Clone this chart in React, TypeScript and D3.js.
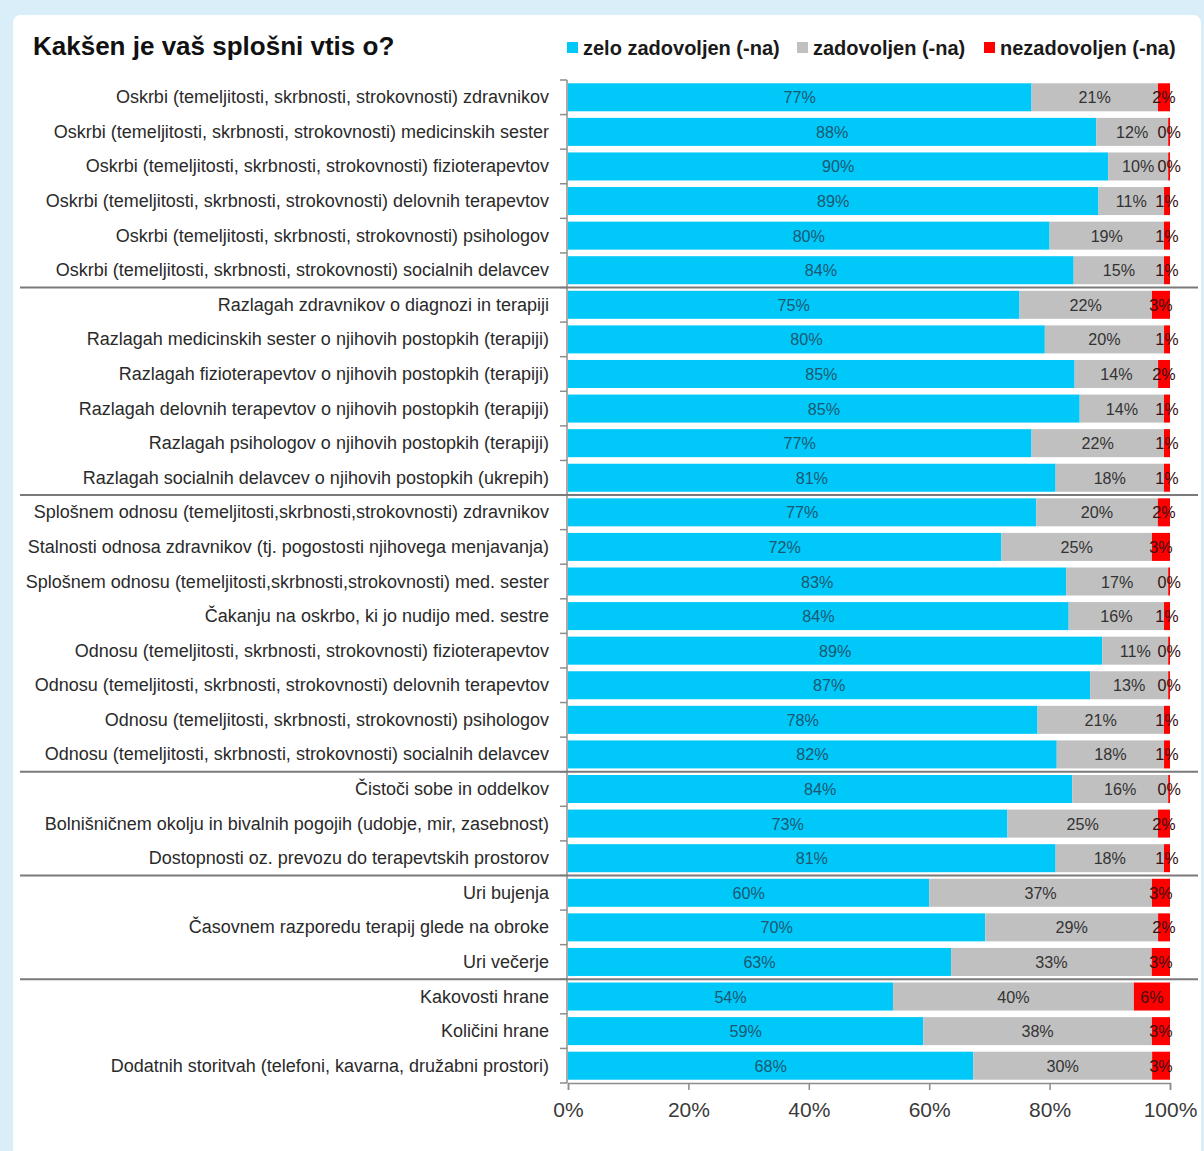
import { useEffect, useRef } from "react";
import * as d3 from "d3";

const categories = [
  "Oskrbi (temeljitosti, skrbnosti, strokovnosti) zdravnikov",
  "Oskrbi (temeljitosti, skrbnosti, strokovnosti) medicinskih sester",
  "Oskrbi (temeljitosti, skrbnosti, strokovnosti) fizioterapevtov",
  "Oskrbi (temeljitosti, skrbnosti, strokovnosti) delovnih terapevtov",
  "Oskrbi (temeljitosti, skrbnosti, strokovnosti) psihologov",
  "Oskrbi (temeljitosti, skrbnosti, strokovnosti) socialnih delavcev",
  "Razlagah zdravnikov o diagnozi in terapiji",
  "Razlagah medicinskih sester o njihovih postopkih (terapiji)",
  "Razlagah fizioterapevtov o njihovih postopkih (terapiji)",
  "Razlagah delovnih terapevtov o njihovih postopkih (terapiji)",
  "Razlagah psihologov o njihovih postopkih (terapiji)",
  "Razlagah socialnih delavcev o njihovih postopkih (ukrepih)",
  "Splošnem odnosu (temeljitosti,skrbnosti,strokovnosti) zdravnikov",
  "Stalnosti odnosa zdravnikov (tj. pogostosti njihovega menjavanja)",
  "Splošnem odnosu (temeljitosti,skrbnosti,strokovnosti) med. sester",
  "Čakanju na oskrbo, ki jo nudijo med. sestre",
  "Odnosu (temeljitosti, skrbnosti, strokovnosti) fizioterapevtov",
  "Odnosu (temeljitosti, skrbnosti, strokovnosti) delovnih terapevtov",
  "Odnosu (temeljitosti, skrbnosti, strokovnosti) psihologov",
  "Odnosu (temeljitosti, skrbnosti, strokovnosti) socialnih delavcev",
  "Čistoči sobe in oddelkov",
  "Bolnišničnem okolju in bivalnih pogojih (udobje, mir, zasebnost)",
  "Dostopnosti oz. prevozu do terapevtskih prostorov",
  "Uri bujenja",
  "Časovnem razporedu terapij glede na obroke",
  "Uri večerje",
  "Kakovosti hrane",
  "Količini hrane",
  "Dodatnih storitvah (telefoni, kavarna, družabni prostori)",
];

const verySatisfied = [77, 88, 90, 89, 80, 84, 75, 80, 85, 85, 77, 81, 77, 72, 83, 84, 89, 87, 78, 82, 84, 73, 81, 60, 70, 63, 54, 59, 68];
const satisfied = [21, 12, 10, 11, 19, 15, 22, 20, 14, 14, 22, 18, 20, 25, 17, 16, 11, 13, 21, 18, 16, 25, 18, 37, 29, 33, 40, 38, 30];
const dissatisfied = [2, 0.3, 0.3, 1, 1, 1, 3, 1, 2, 1, 1, 1, 2, 3, 0.3, 1, 0.3, 0.3, 1, 1, 0.3, 2, 1, 3, 2, 3, 6, 3, 3];

// rows after which a group separator line is drawn
const groupEnds = [6, 12, 20, 23, 26];

const seriesNames = ["zelo zadovoljen (-na)", "zadovoljen (-na)", "nezadovoljen (-na)"];
const seriesColors = ["#00C8F8", "#C0C0C0", "#FF0000"];
const labelColors = ["#1b5873", "#333333", "#3a1010"];
const xTicks = [0, 0.2, 0.4, 0.6, 0.8, 1];

const W = 1204;
const H = 1151;
const FONT = "'Liberation Sans', Arial, sans-serif";

const App = () => {
  const ref = useRef<HTMLDivElement>(null);

  useEffect(() => {
    document.body.style.margin = "0";
    const rows = categories.map((c, i) => ({
      name: c,
      a: verySatisfied[i],
      b: satisfied[i],
      c: dissatisfied[i],
    }));
    const keys = ["a", "b", "c"];
    const stacked = d3.stack<any>().keys(keys).offset(d3.stackOffsetExpand)(rows);

    const margin = { top: 80, left: 568, right: 34, bottom: 68 };

    const svg = d3
      .select(ref.current)
      .html("")
      .append("svg")
      .attr("width", W)
      .attr("height", H)
      .style("display", "block")
      .style("font-family", FONT);

    // frame
    svg.append("rect").attr("width", W).attr("height", H).attr("fill", "#d9eef8");
    svg
      .append("rect")
      .attr("x", 13)
      .attr("y", 15)
      .attr("width", W - 16)
      .attr("height", H)
      .attr("rx", 8)
      .attr("fill", "#ffffff");

    const x = d3.scaleLinear().domain([0, 1]).range([margin.left, W - margin.right]);
    const y = d3
      .scaleBand()
      .domain(categories)
      .range([margin.top, H - margin.bottom])
      .paddingInner(0.19)
      .paddingOuter(0.095);

    const step = y.step();

    // title
    svg
      .append("text")
      .attr("x", 33)
      .attr("y", 55)
      .attr("font-size", 26)
      .attr("font-weight", "bold")
      .attr("fill", "#111")
      .text("Kakšen je vaš splošni vtis o?");

    // legend
    const legendX = [567, 797, 984];
    seriesNames.forEach((n, i) => {
      const g = svg.append("g").attr("transform", `translate(${legendX[i]},0)`);
      g.append("rect").attr("x", 0).attr("y", 42).attr("width", 11).attr("height", 11).attr("fill", seriesColors[i]);
      g.append("text")
        .attr("x", 16)
        .attr("y", 55)
        .attr("font-size", 20)
        .attr("font-weight", "bold")
        .attr("fill", "#1a1a1a")
        .text(n);
    });

    // bars
    const layers = svg
      .append("g")
      .selectAll("g")
      .data(stacked)
      .join("g")
      .attr("fill", (_d, i) => seriesColors[i]);

    layers
      .selectAll("rect")
      .data((d) => d)
      .join("rect")
      .attr("x", (d) => x(d[0]))
      .attr("y", (d: any) => y(d.data.name)!)
      .attr("width", (d) => Math.max(0, x(d[1]) - x(d[0])))
      .attr("height", y.bandwidth());

    // data labels
    stacked.forEach((layer, li) => {
      svg
        .append("g")
        .selectAll("text")
        .data(layer)
        .join("text")
        .attr("text-anchor", "middle")
        .attr("font-size", 17)
        .attr("fill", labelColors[li])
        .attr("transform", (d: any) => {
          const cx = (x(d[0]) + x(d[1])) / 2;
          const cy = y(d.data.name)! + y.bandwidth() / 2 + 6;
          return `translate(${cx},${cy}) scale(0.95,1)`;
        })
        .text((d: any) => `${Math.round(d.data[keys[li]])}%`);
    });

    // category labels
    svg
      .append("g")
      .selectAll("text")
      .data(categories)
      .join("text")
      .attr("text-anchor", "end")
      .attr("font-size", 18)
      .attr("fill", "#2a2a2a")
      .attr("transform", (d) => `translate(549,${y(d)! + y.bandwidth() / 2 + 6})`)
      .text((d) => d);

    // left axis line with ticks between categories
    const axisColor = "#8c8c8c";
    const yTop = margin.top;
    const yBottom = H - margin.bottom;
    svg
      .append("line")
      .attr("x1", margin.left - 1)
      .attr("x2", margin.left - 1)
      .attr("y1", yTop)
      .attr("y2", yBottom)
      .attr("stroke", axisColor)
      .attr("stroke-width", 1.5);
    svg
      .append("g")
      .selectAll("line")
      .data(d3.range(categories.length + 1))
      .join("line")
      .attr("x1", margin.left - 8)
      .attr("x2", margin.left - 1)
      .attr("y1", (i) => yTop + i * step)
      .attr("y2", (i) => yTop + i * step)
      .attr("stroke", axisColor)
      .attr("stroke-width", 1.5);

    // group separators
    svg
      .append("g")
      .selectAll("line")
      .data(groupEnds)
      .join("line")
      .attr("x1", 20)
      .attr("x2", 1198)
      .attr("y1", (i) => yTop + i * step)
      .attr("y2", (i) => yTop + i * step)
      .attr("stroke", "#7a7a7a")
      .attr("stroke-width", 2);

    // bottom axis
    const xAxis = svg
      .append("g")
      .attr("transform", `translate(0,${yBottom})`)
      .call(
        d3
          .axisBottom(x)
          .tickValues(xTicks)
          .tickFormat((d) => `${Math.round(+d * 100)}%`)
          .tickSize(7)
          .tickPadding(12)
      );
    xAxis.select(".domain").attr("stroke", axisColor).attr("stroke-width", 1.5);
    xAxis.selectAll(".tick line").attr("stroke", axisColor).attr("stroke-width", 1.5);
    xAxis
      .selectAll(".tick text")
      .attr("font-family", FONT)
      .attr("font-size", 21)
      .attr("fill", "#3a3a3a");
  }, []);

  return <div ref={ref} />;
};

export default App;
